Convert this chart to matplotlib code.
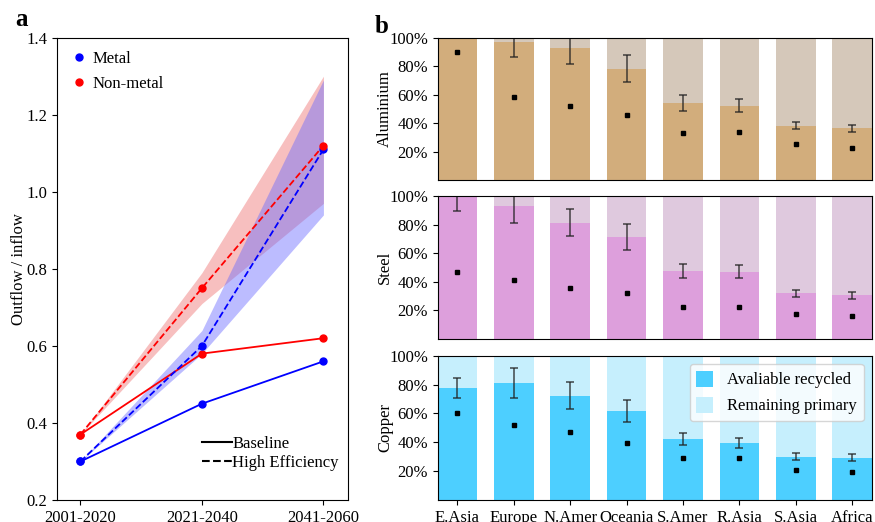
import numpy as np
import matplotlib.pyplot as plt
from matplotlib.lines import Line2D

plt.rcParams['font.family'] = ['Liberation Serif', 'DejaVu Serif']
plt.rcParams['font.size'] = 12

# panel a data
periods = ['2001-2020', '2021-2040', '2041-2060']
metal_base = [0.30, 0.45, 0.56]
nonmetal_base = [0.37, 0.58, 0.62]
metal_high = [0.30, 0.60, 1.11]
nonmetal_high = [0.37, 0.75, 1.12]
metal_low_band = [0.30, 0.58, 0.94]
metal_up_band = [0.30, 0.64, 1.29]
nonmetal_low_band = [0.37, 0.71, 0.97]
nonmetal_up_band = [0.37, 0.79, 1.30]

# panel b data
regions = ['E.Asia', 'Europe', 'N.Amer', 'Oceania', 'S.Amer', 'R.Asia', 'S.Asia', 'Africa']
alu_rec = [1.08, 0.972, 0.931, 0.783, 0.541, 0.521, 0.382, 0.362]
alu_err = [0.05, 0.110, 0.113, 0.093, 0.053, 0.045, 0.026, 0.027]
alu_dot = [0.899, 0.585, 0.521, 0.459, 0.332, 0.339, 0.256, 0.226]
steel_rec = [1.00, 0.931, 0.814, 0.711, 0.477, 0.470, 0.319, 0.305]
steel_err = [0.108, 0.117, 0.094, 0.092, 0.050, 0.045, 0.022, 0.024]
steel_dot = [0.466, 0.415, 0.358, 0.319, 0.227, 0.222, 0.174, 0.158]
cu_rec = [0.779, 0.811, 0.722, 0.618, 0.425, 0.398, 0.301, 0.294]
cu_err = [0.069, 0.105, 0.094, 0.075, 0.043, 0.035, 0.023, 0.023]
cu_dot = [0.605, 0.522, 0.469, 0.398, 0.292, 0.292, 0.211, 0.195]

fig = plt.figure(figsize=(8.75, 5.22), dpi=100)

# ---- panel a ----
ax = fig.add_axes([0.0655, 0.0421, 0.3319, 0.8857])
x = np.arange(len(periods))
ax.fill_between(x, nonmetal_low_band, nonmetal_up_band, color='#f08080', alpha=0.5, lw=0)
ax.fill_between(x, metal_low_band, metal_up_band, color='#6b6bff', alpha=0.45, lw=0)
ax.plot(x, metal_base, '-', color='blue', lw=1.3, marker='o', ms=5)
ax.plot(x, nonmetal_base, '-', color='red', lw=1.3, marker='o', ms=5)
ax.plot(x, metal_high, '--', color='blue', lw=1.3, marker='o', ms=5)
ax.plot(x, nonmetal_high, '--', color='red', lw=1.3, marker='o', ms=5)
ax.set_xlim(-0.19, 2.2)
ax.set_ylim(0.2, 1.4)
ax.set_xticks(x)
ax.set_xticklabels(periods)
ax.set_yticks(np.arange(0.2, 1.41, 0.2))
ax.set_ylabel('Outflow / inflow', labelpad=0)

h1 = [Line2D([], [], ls='none', marker='o', color='blue', ms=5),
      Line2D([], [], ls='none', marker='o', color='red', ms=5)]
leg1 = ax.legend(h1, ['Metal', 'Non-metal'], loc='upper left', frameon=False,
                 fontsize=12, handlelength=1.0, handletextpad=0.3,
                 borderaxespad=0.4, labelspacing=0.55)
ax.add_artist(leg1)
h2 = [Line2D([], [], ls='-', color='black', lw=1.5),
      Line2D([], [], ls='--', color='black', lw=1.5)]
ax.legend(h2, ['Baseline', 'High Efficiency'], loc='lower right', frameon=False,
          fontsize=12, handletextpad=0.0, handlelength=1.8, labelspacing=0.2,
          bbox_to_anchor=(1.02, 0.03))
fig.text(0.017, 0.95, 'a', fontsize=18, fontweight='bold')

# ---- panel b ----
panels = [
    ('Aluminium', alu_rec, alu_err, alu_dot, '#d2ad7c', '#d5c8ba', 0.6552, 0.2726),
    ('Steel', steel_rec, steel_err, steel_dot, '#dd9fdc', '#dfc9de', 0.3506, 0.2740),
    ('Copper', cu_rec, cu_err, cu_dot, '#4dcfff', '#c6effd', 0.0421, 0.2764),
]
xb = np.arange(len(regions))
for i, (name, rec, err, dot, c1, c2, y0, h) in enumerate(panels):
    axb = fig.add_axes([0.5002, y0, 0.4963, h])
    rec = np.array(rec)
    rem = np.clip(1 - rec, 0, None)
    axb.bar(xb, rec, width=0.7, color=c1, label='Avaliable recycled')
    axb.bar(xb, rem, width=0.7, bottom=rec, color=c2, label='Remaining primary')
    axb.errorbar(xb, rec, yerr=err, fmt='none', ecolor='#222222', alpha=0.7,
                 elinewidth=1.3, capsize=3, capthick=1.3)
    axb.plot(xb, dot, ls='none', marker='s', color='black', ms=3)
    axb.set_xlim(-0.35, 7.35)
    axb.set_ylim(0, 1.0)
    axb.set_yticks([0.2, 0.4, 0.6, 0.8, 1.0])
    axb.set_yticklabels(['20%', '40%', '60%', '80%', '100%'])
    axb.set_ylabel(name, labelpad=-3)
    axb.set_xticks(xb)
    if i == 2:
        axb.set_xticklabels(regions)
        axb.legend(loc='upper right', fontsize=12, framealpha=0.8,
                   handlelength=1.0, handleheight=1.1, borderpad=0.4,
                   labelspacing=0.5, handletextpad=0.85)
    else:
        axb.set_xticklabels([])
        axb.tick_params(axis='x', length=0)
fig.text(0.428, 0.937, 'b', fontsize=18, fontweight='bold')

fig.savefig('out.png', dpi=100)
